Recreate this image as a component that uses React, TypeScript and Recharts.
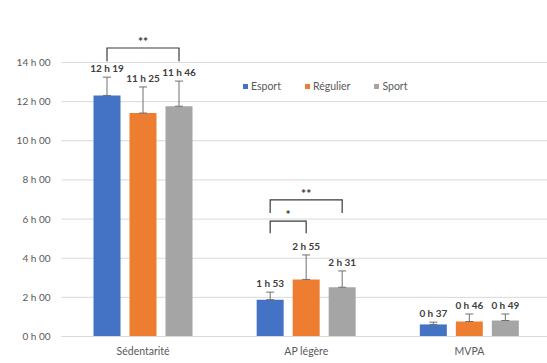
import React from 'react'
import {
  BarChart, Bar, XAxis, YAxis, CartesianGrid, ErrorBar, LabelList, Legend,
} from 'recharts'

// durations are stored in minutes, the chart plots hours
const CATEGORIES = ['Sédentarité', 'AP légère', 'MVPA']
const ESPORT_MIN = [739, 113, 37]
const REGULIER_MIN = [685, 175, 46]
const SPORT_MIN = [706, 151, 49]
const ESPORT_ERR_MIN = [56, 23, 7]
const REGULIER_ERR_MIN = [80, 75, 23]
const SPORT_ERR_MIN = [77, 50, 20]
const Y_TICKS = [0, 2, 4, 6, 8, 10, 12, 14]

// significance brackets: category, first/last series, bracket height and leg bottom (hours)
const BRACKETS = [
  { cat: 0, from: 0, to: 2, top: 14.74, leg: 14.07, mark: '**' },
  { cat: 1, from: 0, to: 1, top: 5.9, leg: 5.27, mark: '*' },
  { cat: 1, from: 0, to: 2, top: 6.98, leg: 6.31, mark: '**' },
]

const SERIES = [
  { key: 'esport', name: 'Esport', color: '#4472C4', min: ESPORT_MIN, err: ESPORT_ERR_MIN },
  { key: 'regulier', name: 'Régulier', color: '#ED7D31', min: REGULIER_MIN, err: REGULIER_ERR_MIN },
  { key: 'sport', name: 'Sport', color: '#A5A5A5', min: SPORT_MIN, err: SPORT_ERR_MIN },
]

const data = CATEGORIES.map((cat, i) => {
  const row: Record<string, unknown> = { cat }
  SERIES.forEach(s => {
    row[s.key] = s.min[i] / 60
    row[`${s.key}Min`] = s.min[i]
    row[`${s.key}Err`] = [0, s.err[i] / 60]
  })
  return row
})

const FONT = 'Lato, "Open Sans", sans-serif'
const HEIGHT = 363
const LEFT = 61.5
const BAR = 27
const GAP = 9

const fmt = (min: number) => `${Math.floor(min / 60)} h ${String(min % 60).padStart(2, '0')}`

function valueLabel(errs: number[]) {
  // eslint-disable-next-line @typescript-eslint/no-explicit-any
  return (props: any) => {
    const { x, y, width, height, value, index } = props
    const pxPerMin = height / value
    const top = y - errs[index] * pxPerMin
    return (
      <text
        x={x + width / 2}
        y={top - 5}
        textAnchor="middle"
        fontFamily={FONT}
        fontSize={10}
        fontWeight={700}
        fill="#404040"
      >
        {fmt(value)}
      </text>
    )
  }
}

// brackets hang off the first bar of each group; the bar gives both the x position
// and the hours-to-pixels ratio
// eslint-disable-next-line @typescript-eslint/no-explicit-any
function bracketLayer(props: any) {
  const { x, y, width, height, value, index } = props
  const pxPerHour = height / value
  const base = y + height
  const toY = (h: number) => base - h * pxPerHour
  const cx = (s: number) => x + width / 2 + s * (BAR + GAP)
  return (
    <g>
      {BRACKETS.filter(b => b.cat === index).map((b, i) => {
        const x1 = cx(b.from)
        const x2 = cx(b.to)
        const yt = toY(b.top)
        const yl = toY(b.leg)
        return (
          <g key={i}>
            <path d={`M${x1},${yl}V${yt}H${x2}V${yl}`} fill="none" stroke="#3a3a3a" strokeWidth={1.2} />
            <text
              x={(x1 + x2) / 2}
              y={yt - 2}
              textAnchor="middle"
              fontFamily={FONT}
              fontSize={12}
              fontWeight={700}
              fill="#333"
            >
              {b.mark}
            </text>
          </g>
        )
      })}
    </g>
  )
}

function LegendBox() {
  return (
    <div style={{ display: 'flex', fontFamily: FONT, fontSize: 10.5, color: '#595959' }}>
      {SERIES.map(s => (
        <div key={s.key} style={{ display: 'flex', alignItems: 'center', marginRight: 24 }}>
          <span style={{ width: 5, height: 5, background: s.color, marginRight: 3 }} />
          <span>{s.name}</span>
        </div>
      ))}
    </div>
  )
}

export default function App() {
  return (
    <div style={{ position: 'absolute', left: 0, top: 0, width: 547, height: HEIGHT, overflow: 'hidden', background: '#fff' }}>
      <BarChart
        width={551}
        height={HEIGHT}
        data={data}
        margin={{ top: 62.5, right: 0, bottom: 0, left: 0 }}
        barSize={BAR}
        barGap={GAP}
      >
        <CartesianGrid vertical={false} stroke="#d9d9d9" />
        <XAxis
          dataKey="cat"
          height={26.5}
          tickLine={false}
          tickSize={0}
          tickMargin={11}
          axisLine={{ stroke: '#d9d9d9' }}
          tick={{ fontFamily: FONT, fontSize: 10.5, fill: '#595959' }}
        />
        <YAxis
          width={LEFT}
          domain={[0, 14]}
          ticks={Y_TICKS}
          axisLine={false}
          tickLine={false}
          tickSize={0}
          tickMargin={11}
          tickFormatter={(v: number) => `${v} h 00`}
          tick={{ fontFamily: FONT, fontSize: 10, fill: '#595959' }}
        />
        <Legend
          layout="horizontal"
          align="center"
          verticalAlign="middle"
          wrapperStyle={{ top: 80, left: 243, width: 'auto' }}
          content={<LegendBox />}
        />
        {SERIES.map((s, si) => (
          <Bar key={s.key} dataKey={s.key} name={s.name} fill={s.color} isAnimationActive={false}>
            <ErrorBar dataKey={`${s.key}Err`} direction="y" width={4} stroke="#707070" strokeWidth={1} />
            <LabelList dataKey={`${s.key}Min`} content={valueLabel(s.err)} />
            {si === 0 && <LabelList dataKey={s.key} content={bracketLayer} />}
          </Bar>
        ))}
      </BarChart>
    </div>
  )
}
